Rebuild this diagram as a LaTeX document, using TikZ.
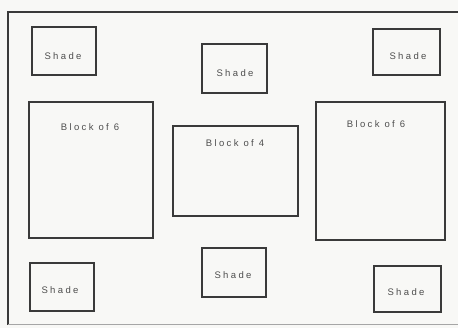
\documentclass[tikz,border=0pt]{standalone}
\usepackage{fontspec}
\newfontfamily\lblfont[LetterSpace=25]{Liberation Sans}
\definecolor{ink}{HTML}{3A3A3A}
\definecolor{paper}{HTML}{F8F8F6}
\begin{document}
\begin{tikzpicture}[x=1pt,y=-1pt,
  box/.style={draw=ink, line width=1.1pt, inner sep=0pt, outer sep=0pt},
  lbl/.style={inner sep=0pt, font=\lblfont\fontsize{9.5}{11}\selectfont, text=ink!90}]
\fill[paper] (0,0) rectangle (458,328);
\useasboundingbox (0,0) rectangle (458,328);
% frame
\coordinate (ftr) at (458,12);
\coordinate (ftl) at (8,12);
\coordinate (fbl) at (8,325);
\coordinate (fbr) at (458,325);
\draw[ink, line width=1.1pt] (ftr) -- (ftl) -- (fbl);
\draw[ink!45, line width=1pt] (fbl) -- (fbr);
% shade boxes
\node[box, minimum width=64pt, minimum height=48pt] (s1) at (64,51) {};
\node[box, minimum width=65pt, minimum height=49pt] (s2) at (234.5,68.5) {};
\node[box, minimum width=67pt, minimum height=46pt] (s3) at (406.5,52) {};
\node[box, minimum width=64pt, minimum height=48pt] (s4) at (62,287) {};
\node[box, minimum width=64pt, minimum height=49pt] (s5) at (234,272.5) {};
\node[box, minimum width=67pt, minimum height=46pt] (s6) at (407.5,289) {};
% blocks
\node[box, minimum width=124pt, minimum height=136pt] (b1) at (91,170) {};
\node[box, minimum width=125pt, minimum height=90pt] (b2) at (235.5,171) {};
\node[box, minimum width=129pt, minimum height=138pt] (b3) at (380.5,171) {};
% labels
\node[lbl] (t1) at (63,56) {Shade};
\node[lbl] (t2) at (235,73) {Shade};
\node[lbl] (t3) at (408,56) {Shade};
\node[lbl] (t4) at (60,290) {Shade};
\node[lbl] (t5) at (233,275) {Shade};
\node[lbl] (t6) at (406,292) {Shade};
\node[lbl] (t7) at (90,127) {Block of 6};
\node[lbl] (t8) at (235,143) {Block of 4};
\node[lbl] (t9) at (376,124) {Block of 6};
\end{tikzpicture}
\end{document}
